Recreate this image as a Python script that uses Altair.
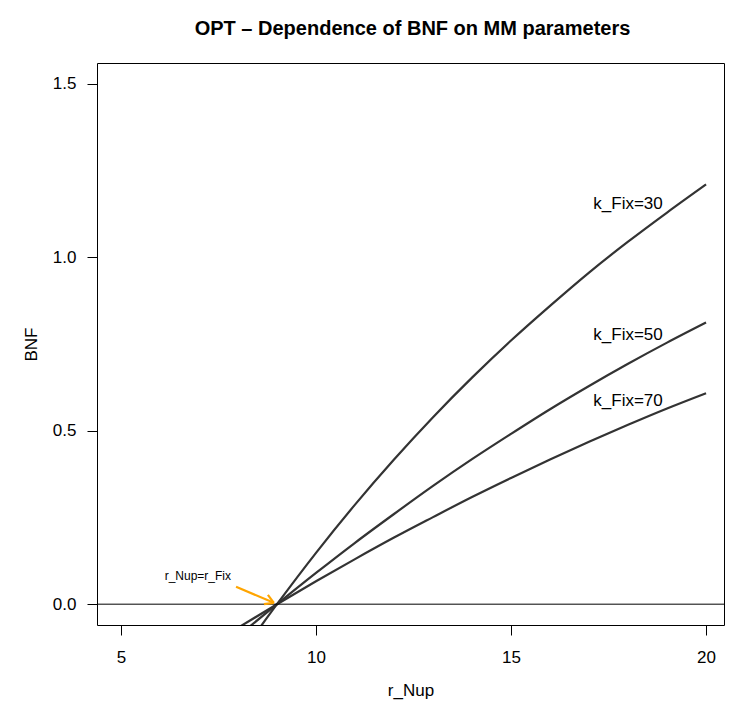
import altair as alt
import pandas as pd
import math

# ---- data ----
r_nup = [8, 9, 10, 11, 12, 13, 14, 15, 16, 17, 18, 19, 20]
bnf_k30 = [-0.155, 0.0, 0.148, 0.287, 0.417, 0.539, 0.653, 0.76, 0.86, 0.956, 1.045, 1.129, 1.21]
bnf_k50 = [-0.092, 0.0, 0.09, 0.177, 0.26, 0.341, 0.418, 0.491, 0.562, 0.629, 0.693, 0.754, 0.812]
bnf_k70 = [-0.068, 0.0, 0.066, 0.13, 0.192, 0.251, 0.309, 0.364, 0.417, 0.468, 0.517, 0.564, 0.608]
series_names = ["k_Fix=30", "k_Fix=50", "k_Fix=70"]

label_x = [18, 18, 18]
label_y = [1.155, 0.776, 0.587]

arrow_start = (7.95, 0.05)
arrow_end = (8.92, 0.004)
arrow_label = "r_Nup=r_Fix"
arrow_label_pos = (6.97, 0.081)

x_ticks = [5, 10, 15, 20]
y_ticks = [0.0, 0.5, 1.0, 1.5]
x_domain = [4.385, 20.46]
y_domain = [-0.06, 1.56]

W, H = 627, 562
FONT = "Liberation Sans"

rows = []
for name, vals in zip(series_names, [bnf_k30, bnf_k50, bnf_k70]):
    for r, v in zip(r_nup, vals):
        rows.append({"r_Nup": r, "BNF": v, "series": name})
df = pd.DataFrame(rows)

xs = alt.Scale(domain=x_domain, nice=False, zero=False)
ys = alt.Scale(domain=y_domain, nice=False, zero=False)

xaxis = alt.Axis(values=x_ticks, format="d", grid=False, domain=False, tickSize=10,
                 tickColor="black", labelColor="black", labelFont=FONT, labelFontSize=17,
                 labelPadding=14, title="r_Nup", titleFont=FONT, titleFontSize=17,
                 titleFontWeight="normal", titleColor="black", titleY=65,
                 titleBaseline="middle")
yaxis = alt.Axis(values=y_ticks, format=".1f", grid=False, domain=False, tickSize=10,
                 tickColor="black", labelColor="black", labelFont=FONT, labelFontSize=17,
                 labelPadding=11, title="BNF", titleFont=FONT, titleFontSize=17,
                 titleFontWeight="normal", titleColor="black", titleX=-66, titleY=H / 2,
                 titleAngle=270, titleAlign="center", titleBaseline="middle")

lines = alt.Chart(df).mark_line(clip=True, color="#333333", strokeWidth=2.2,
                                interpolate="monotone").encode(
    x=alt.X("r_Nup:Q", scale=xs, axis=xaxis),
    y=alt.Y("BNF:Q", scale=ys, axis=yaxis),
    detail="series:N",
)

zero = alt.Chart(pd.DataFrame({"y": [0.0]})).mark_rule(color="black", strokeWidth=1).encode(
    y=alt.Y("y:Q", scale=ys)
)

labels = alt.Chart(pd.DataFrame({"x": label_x, "y": label_y, "t": series_names})).mark_text(
    font=FONT, fontSize=17, color="black", align="center", baseline="middle"
).encode(x=alt.X("x:Q", scale=xs), y=alt.Y("y:Q", scale=ys), text="t:N")

# arrow shaft and head (head arms derived from shaft direction, 30 deg, ~10px)
px_x = W / (x_domain[1] - x_domain[0])
px_y = H / (y_domain[1] - y_domain[0])
dxp = (arrow_start[0] - arrow_end[0]) * px_x
dyp = (arrow_start[1] - arrow_end[1]) * px_y
ln = math.hypot(dxp, dyp)
ux, uy = dxp / ln, dyp / ln
head_len = 10.0
segs = [{"x": arrow_start[0], "y": arrow_start[1], "x2": arrow_end[0], "y2": arrow_end[1]}]
for ang in (math.radians(30), -math.radians(30)):
    ax_ = ux * math.cos(ang) - uy * math.sin(ang)
    ay_ = ux * math.sin(ang) + uy * math.cos(ang)
    segs.append({"x": arrow_end[0], "y": arrow_end[1],
                 "x2": arrow_end[0] + ax_ * head_len / px_x,
                 "y2": arrow_end[1] + ay_ * head_len / px_y})
arrow = alt.Chart(pd.DataFrame(segs)).mark_rule(color="#FFA500", strokeWidth=2.2).encode(
    x=alt.X("x:Q", scale=xs), y=alt.Y("y:Q", scale=ys), x2="x2:Q", y2="y2:Q"
)

arrow_txt = alt.Chart(pd.DataFrame({"x": [arrow_label_pos[0]], "y": [arrow_label_pos[1]],
                                    "t": [arrow_label]})).mark_text(
    font=FONT, fontSize=12, color="black", align="center", baseline="middle"
).encode(x=alt.X("x:Q", scale=xs), y=alt.Y("y:Q", scale=ys), text="t:N")

chart = alt.layer(lines, zero, labels, arrow, arrow_txt).properties(
    width=W, height=H,
    padding={"left": 89, "top": 55, "right": 1, "bottom": 100},
    autosize=alt.AutoSizeParams(type="none"),
    title=alt.TitleParams("OPT \u2013 Dependence of BNF on MM parameters", font=FONT,
                          fontSize=20, fontWeight="bold", color="black", anchor="middle",
                          baseline="alphabetic", offset=8, dx=2),
).configure_view(stroke="black", strokeWidth=1)

chart.save("out.html", embed_options={"renderer": "svg", "actions": False})
